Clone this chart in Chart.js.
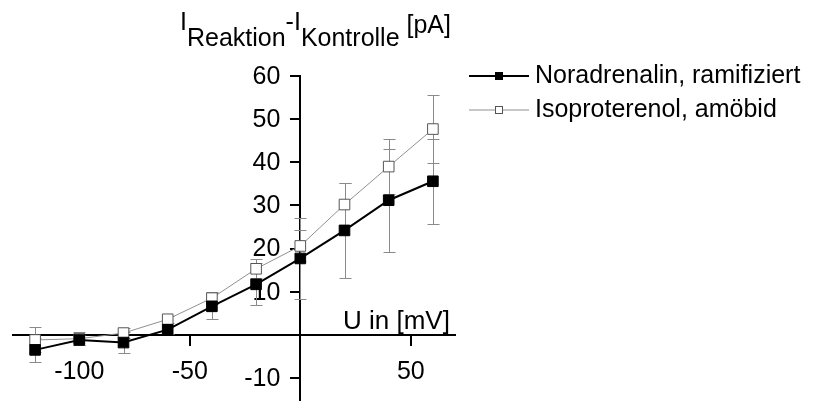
<!DOCTYPE html>
<html>
<head>
<meta charset="utf-8">
<script src="https://cdn.jsdelivr.net/npm/chart.js@4.4.0/dist/chart.umd.min.js"></script>
<style>
  html, body { margin: 0; padding: 0; background: #fff; }
  #wrap { position: relative; width: 822px; height: 408px; }
</style>
</head>
<body>
<div id="wrap"><canvas id="ivChart"></canvas></div>
<script>
// membrane potential steps (mV)
const voltages = [-120, -100, -80, -60, -40, -20, 0, 20, 40, 60];
// I(Reaktion) - I(Kontrolle), pA
const noradrenalin    = [-3.5, -1.2, -1.8, 1.2, 6.6, 11.7, 17.7, 24.2, 31.2, 35.6];
const noradrenalinErr = [2.7, 1.2, 2.5, 1.0, 3.0, 4.9, 9.4, 11.0, 11.9, 9.9];
const isoproterenol    = [-1.2, -0.9, 0.4, 3.6, 8.5, 15.3, 20.6, 30.2, 39.0, 47.7];
const isoproterenolErr = [2.9, 1.5, 1.2, 0.8, 1.4, 2.2, 3.6, 4.9, 6.4, 7.9];
const seriesNames = ['Noradrenalin, ramifiziert', 'Isoproterenol, amöbid'];
const xTicks = [-100, -50, 0, 50];
const yTicks = [-10, 0, 10, 20, 30, 40, 50, 60];

const FONT = '"Liberation Sans", Arial, sans-serif';
const errors = [noradrenalinErr, isoproterenolErr];

const tickLabel = v => (v === 0 ? '' : String(v));

// y tick labels (chart.js ignores padding for an axis pinned at x=0) and error bars, under the markers
const errorBars = {
  id: 'errorBars',
  beforeDatasetsDraw(chart) {
    const { ctx, scales: { x, y } } = chart;
    ctx.save();
    ctx.fillStyle = '#000';
    ctx.font = '25px ' + FONT;
    ctx.textAlign = 'right';
    ctx.textBaseline = 'middle';
    const axisX = x.getPixelForValue(0);
    y.ticks.forEach(t => {
      ctx.fillText(tickLabel(t.value), axisX - 20, y.getPixelForValue(t.value) + 1);
    });

    ctx.strokeStyle = '#8a8a8a';
    ctx.lineWidth = 1;
    chart.data.datasets.forEach((ds, d) => {
      ds.data.forEach((p, i) => {
        const e = errors[d][i];
        const px = Math.round(x.getPixelForValue(p.x)) + 0.5;
        const top = Math.round(y.getPixelForValue(p.y + e)) + 0.5;
        const bot = Math.round(y.getPixelForValue(p.y - e)) + 0.5;
        ctx.beginPath();
        ctx.moveTo(px, top); ctx.lineTo(px, bot);
        ctx.moveTo(px - 6, top); ctx.lineTo(px + 6, top);
        ctx.moveTo(px - 6, bot); ctx.lineTo(px + 6, bot);
        ctx.stroke();
      });
    });
    ctx.restore();
  }
};

// axis titles and legend
const labels = {
  id: 'labels',
  afterDraw(chart) {
    const ctx = chart.ctx;
    ctx.save();
    ctx.fillStyle = '#000';
    ctx.font = '25px ' + FONT;
    ctx.textAlign = 'left';
    ctx.textBaseline = 'alphabetic';

    // y title with subscripts
    let cx = 180;
    const parts = [['I', 30], ['Reaktion', 46], ['-I', 30], ['Kontrolle', 46], [' [pA]', 33]];
    parts.forEach(([t, by]) => {
      ctx.fillText(t, cx, by);
      cx += ctx.measureText(t).width;
    });

    // x title
    ctx.font = '26px ' + FONT;
    ctx.fillText('U in [mV]', 343, 329);
    ctx.font = '25px ' + FONT;

    // legend
    ctx.textBaseline = 'middle';
    chart.data.datasets.forEach((ds, i) => {
      const ly = 76 + i * 34;
      ctx.strokeStyle = ds.borderColor;
      ctx.lineWidth = ds.borderWidth;
      ctx.beginPath();
      ctx.moveTo(469, ly); ctx.lineTo(529, ly);
      ctx.stroke();
      ctx.fillStyle = ds.pointBackgroundColor;
      ctx.strokeStyle = ds.pointBorderColor;
      ctx.lineWidth = 1;
      ctx.fillRect(495.5, ly - 3.5, 7, 7);
      ctx.strokeRect(495.5, ly - 3.5, 7, 7);
      ctx.fillStyle = '#000';
      ctx.fillText(seriesNames[i], 535, ly);
    });
    ctx.restore();
  }
};

new Chart(document.getElementById('ivChart'), {
  type: 'line',
  data: {
    datasets: [
      {
        label: seriesNames[0],
        data: voltages.map((v, i) => ({ x: v, y: noradrenalin[i] })),
        borderColor: '#000',
        borderWidth: 2,
        pointStyle: 'rect',
        pointRadius: 7.5,
        pointBackgroundColor: '#000',
        pointBorderColor: '#000',
        pointBorderWidth: 1,
        tension: 0
      },
      {
        label: seriesNames[1],
        data: voltages.map((v, i) => ({ x: v, y: isoproterenol[i] })),
        borderColor: '#909090',
        borderWidth: 1,
        pointStyle: 'rect',
        pointRadius: 7.5,
        pointBackgroundColor: '#fff',
        pointBorderColor: '#555',
        pointBorderWidth: 1,
        tension: 0
      }
    ]
  },
  options: {
    responsive: true,
    maintainAspectRatio: false,
    animation: false,
    events: [],
    layout: { padding: { left: 13, right: 367, top: 76, bottom: 0 } },
    plugins: { legend: { display: false }, tooltip: { enabled: false } },
    scales: {
      x: {
        type: 'linear',
        min: -130,
        max: 70,
        position: { y: 0 },
        afterBuildTicks: s => { s.ticks = xTicks.map(v => ({ value: v })); },
        afterFit: s => { s.paddingLeft = 0; s.paddingRight = 0; },
        border: { color: '#000', width: 2 },
        grid: { drawOnChartArea: false, color: '#000', lineWidth: 2, tickLength: 10 },
        ticks: { font: { family: FONT, size: 25 }, color: '#000', padding: 12, maxRotation: 0, autoSkip: false, callback: tickLabel }
      },
      y: {
        type: 'linear',
        min: -15,
        max: 60,
        position: { x: 0 },
        afterBuildTicks: s => { s.ticks = yTicks.map(v => ({ value: v })); },
        afterFit: s => { s.paddingTop = 0; s.paddingBottom = 0; },
        border: { color: '#000', width: 2 },
        grid: { drawOnChartArea: false, color: '#000', lineWidth: 2, tickLength: 9 },
        ticks: { display: false }
      }
    }
  },
  plugins: [errorBars, labels]
});
</script>
</body>
</html>
